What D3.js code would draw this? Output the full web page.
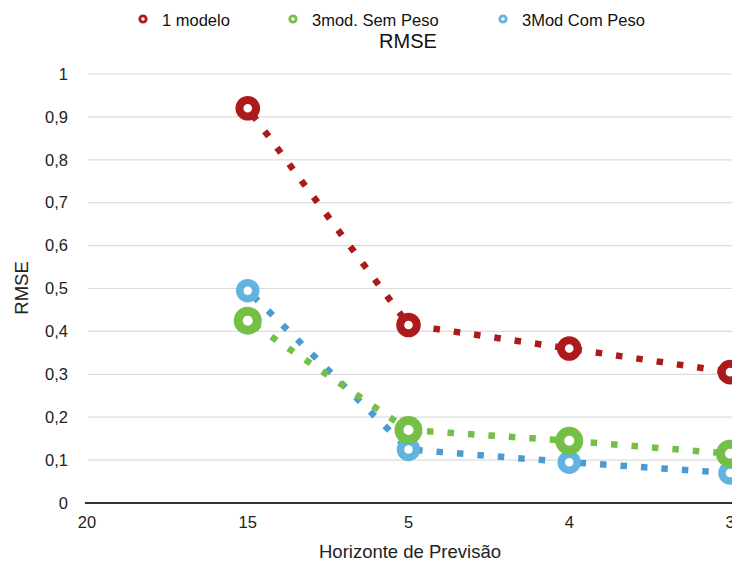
<!DOCTYPE html>
<html>
<head>
<meta charset="utf-8">
<script src="https://cdn.jsdelivr.net/npm/d3@7"></script>
<style>
  html, body { margin: 0; padding: 0; background: #fff; overflow: hidden; }
  svg { display: block; font-family: "Liberation Sans", Arial, Helvetica, sans-serif; }
</style>
</head>
<body>
<svg id="chart" width="732" height="565"></svg>
<script>
const categories = ["20", "15", "5", "4", "3"];
const seriesNames = ["1 modelo", "3mod. Sem Peso", "3Mod Com Peso"];
const umModelo = [null, 0.92, 0.415, 0.36, 0.305];
const semPeso = [null, 0.425, 0.17, 0.145, 0.115];
const comPeso = [null, 0.495, 0.125, 0.095, 0.07];
const yTicks = [0, 0.1, 0.2, 0.3, 0.4, 0.5, 0.6, 0.7, 0.8, 0.9, 1];

const series = [
  { name: seriesNames[0], values: umModelo, color: "#ad1a1c", dot: "#ad1a1c", r: 8.3, sw: 8 },
  { name: seriesNames[1], values: semPeso, color: "#74bf46", dot: "#74bf46", r: 9.5, sw: 9 },
  { name: seriesNames[2], values: comPeso, color: "#63b3e1", dot: "#4a9bd0", r: 8, sw: 7.5 }
];

const svg = d3.select("#chart");
const x = d3.scalePoint().domain(categories).range([87, 730]);
const y = d3.scaleLinear().domain([0, 1]).range([503, 74]);

// gridlines
svg.append("g").selectAll("line").data(yTicks.filter(d => d > 0)).join("line")
  .attr("x1", 88).attr("x2", 732)
  .attr("y1", d => y(d)).attr("y2", d => y(d))
  .attr("stroke", "#dcdcdc").attr("stroke-width", 1.2);

// y axis labels
const fmt = d => d3.format(".1~f")(d).replace(".", ",");
svg.append("g").selectAll("text").data(yTicks).join("text")
  .attr("x", 68).attr("y", d => y(d)).attr("dy", "0.35em")
  .attr("text-anchor", "end").attr("font-size", 16.5).attr("fill", "#222")
  .text(d => fmt(d));

// x axis line
svg.append("line").attr("x1", 85).attr("x2", 732).attr("y1", y(0)).attr("y2", y(0))
  .attr("stroke", "#333").attr("stroke-width", 2);

// x tick labels
svg.append("g").selectAll("text").data(categories).join("text")
  .attr("x", d => x(d)).attr("y", 528)
  .attr("text-anchor", "middle").attr("font-size", 16.5).attr("fill", "#222")
  .text(d => d);

// axis titles
svg.append("text").attr("x", 410).attr("y", 558).attr("text-anchor", "middle")
  .attr("font-size", 18.5).attr("fill", "#222").text("Horizonte de Previsão");
svg.append("text").attr("transform", "translate(28,288) rotate(-90)").attr("text-anchor", "middle")
  .attr("font-size", 18.5).attr("fill", "#222").text("RMSE");
svg.append("text").attr("x", 408).attr("y", 48).attr("text-anchor", "middle")
  .attr("font-size", 20).attr("fill", "#111").text("RMSE");

// lines
const line = d3.line().defined(d => d.v != null).x(d => x(d.c)).y(d => y(d.v));
const drawOrder = [2, 1, 0];
drawOrder.forEach(i => {
  const s = series[i];
  const pts = categories.map((c, j) => ({ c, v: s.values[j] }));
  svg.append("path").datum(pts).attr("d", line)
    .attr("fill", "none").attr("stroke", s.dot).attr("stroke-width", 6.5)
    .attr("stroke-dasharray", "6.5,14").attr("stroke-dashoffset", -8);
});
// markers
drawOrder.forEach(i => {
  const s = series[i];
  const pts = categories.map((c, j) => ({ c, v: s.values[j] })).filter(d => d.v != null);
  svg.append("g").selectAll("circle").data(pts).join("circle")
    .attr("cx", d => x(d.c)).attr("cy", d => y(d.v)).attr("r", s.r)
    .attr("fill", "#fff").attr("stroke", s.color).attr("stroke-width", s.sw);
});

// legend
const legendX = [143, 293, 503];
series.forEach((s, i) => {
  const g = svg.append("g").attr("transform", `translate(${legendX[i]},19)`);
  g.append("circle").attr("r", 3.2).attr("fill", "#fff").attr("stroke", s.color).attr("stroke-width", 2.8);
  g.append("text").attr("x", 19).attr("y", 1).attr("dy", "0.35em")
    .attr("font-size", 16.5).attr("fill", "#111").text(s.name);
});
</script>
</body>
</html>
